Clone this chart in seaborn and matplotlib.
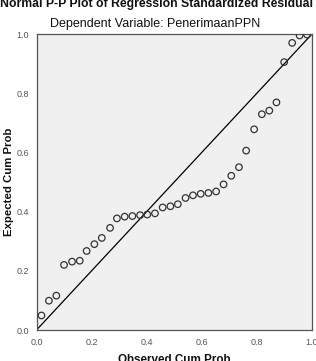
import matplotlib
matplotlib.use("Agg")
import matplotlib.pyplot as plt
import seaborn as sns
import pandas as pd

observed = [0.018, 0.045, 0.072, 0.100, 0.129, 0.157, 0.182, 0.210, 0.237, 0.267,
            0.292, 0.320, 0.348, 0.376, 0.402, 0.430, 0.458, 0.486, 0.513, 0.541,
            0.568, 0.596, 0.624, 0.652, 0.679, 0.707, 0.735, 0.761, 0.790, 0.818,
            0.845, 0.871, 0.899, 0.928, 0.955, 0.982]
expected = [0.049, 0.099, 0.116, 0.220, 0.231, 0.234, 0.267, 0.290, 0.311, 0.345,
            0.377, 0.383, 0.385, 0.388, 0.390, 0.394, 0.414, 0.418, 0.425, 0.446,
            0.455, 0.460, 0.463, 0.468, 0.492, 0.521, 0.550, 0.606, 0.678, 0.729,
            0.741, 0.769, 0.905, 0.970, 0.995, 0.998]
diagonal = [0.0, 1.0]
ticks = [0.0, 0.2, 0.4, 0.6, 0.8, 1.0]
tick_labels = ["0.0", "0.2", "0.4", "0.6", "0.8", "1.0"]

title = "Normal P-P Plot of Regression Standardized Residual"
subtitle = "Dependent Variable: PenerimaanPPN"
xlabel = "Observed Cum Prob"
ylabel = "Expected Cum Prob"

sns.set_style("white")
plt.rcParams['font.family'] = ['Liberation Sans', 'DejaVu Sans']

W, H = 316, 361
fig = plt.figure(figsize=(W / 100, H / 100), dpi=100)
ax = fig.add_axes([36.5 / W, (H - 330) / H, 275.5 / W, 296 / H])
ax.set_facecolor("#f0f0f0")

df = pd.DataFrame({"observed": observed, "expected": expected})
sns.lineplot(x=diagonal, y=diagonal, ax=ax, color="black", linewidth=0.9)
sns.scatterplot(data=df, x="observed", y="expected", ax=ax, marker="o",
                facecolors="none", edgecolor="#333333", linewidth=0.9, s=22,
                zorder=3)

ax.set_xlim(0, 1)
ax.set_ylim(0, 1)
ax.set_xticks(ticks)
ax.set_xticklabels(tick_labels)
ax.set_yticks(ticks)
ax.set_yticklabels(tick_labels)
ax.tick_params(axis="both", direction="out", length=4, width=0.8,
               color="#444444", labelsize=6.5, labelcolor="#555555", pad=1.5)
for sp in ax.spines.values():
    sp.set_color("#555555")
    sp.set_linewidth(0.9)
ax.set_xlabel("")
ax.set_ylabel("")

fig.text(157 / W, 1 - 7 / H, title, ha="center", va="baseline",
         fontsize=8.8, fontweight="bold", color="#111111")
fig.text(155 / W, 1 - 27 / H, subtitle, ha="center", va="baseline",
         fontsize=9.0, color="#111111")
fig.text(174 / W, 1 - 363 / H, xlabel, ha="center", va="baseline",
         fontsize=8.4, fontweight="bold", color="#111111")
fig.text(9 / W, 1 - 182 / H, ylabel, ha="center", va="center", rotation=90,
         fontsize=8.2, fontweight="bold", color="#111111")

fig.savefig("out.png", dpi=100)
